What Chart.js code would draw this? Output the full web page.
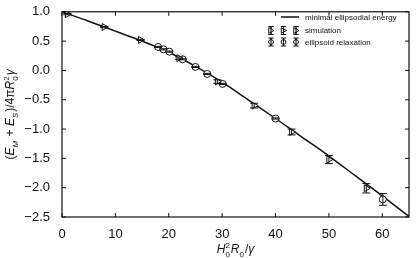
<!DOCTYPE html>
<html>
<head>
<meta charset="utf-8">
<script src="https://cdn.jsdelivr.net/npm/chart.js@4.4.0/dist/chart.umd.min.js"></script>
<style>
  html, body { margin: 0; padding: 0; background: #fff; }
  #wrap { width: 418px; height: 258px; }
</style>
</head>
<body>
<div id="wrap"><canvas id="energy-chart" width="418" height="258"></canvas></div>
<script>
// minimal ellipsoidal energy (theory curve)
const curveX = [0, 5, 10, 15, 20, 25, 30, 35, 40, 45, 50, 55, 60, 65];
const curveY = [1.0, 0.84, 0.67, 0.50, 0.31, 0.07, -0.20, -0.51, -0.82, -1.14, -1.46, -1.80, -2.14, -2.49];

// simulation points with error
const simX = [1, 7.9, 14.7, 21.9, 29.1, 36, 43, 50, 57];
const simY = [0.96, 0.74, 0.52, 0.21, -0.19, -0.60, -1.05, -1.52, -2.01];
const simErr = [0.01, 0.01, 0.01, 0.02, 0.03, 0.04, 0.05, 0.07, 0.08];

// ellipsoid relaxation points with error
const relX = [18, 19, 20.1, 22.6, 25, 27.2, 30.1, 40, 60.1];
const relY = [0.40, 0.36, 0.32, 0.19, 0.06, -0.06, -0.23, -0.82, -2.20];
const relErr = [0.01, 0.01, 0.01, 0.01, 0.01, 0.01, 0.01, 0.01, 0.10];

const xTicks = [0, 10, 20, 30, 40, 50, 60];
const yTicks = [-2.5, -2.0, -1.5, -1.0, -0.5, 0.0, 0.5, 1.0];
const seriesLabels = ['minimal ellipsodial energy', 'simulation', 'ellipsoid relaxation'];

const FONT = '"Liberation Sans", Arial, Helvetica, sans-serif';
const INK = '#111';

// axis titles as pieces: t = text, it = italic, sub / sup = scripts
const xTitle = [
  { t: 'H', it: true, sub: '0', sup: '2' },
  { t: 'R', it: true, sub: '0' },
  { t: '/' },
  { t: 'γ', it: true }
];
const yTitle = [
  { t: '(' },
  { t: 'E', it: true, sub: 'M', subIt: true },
  { t: ' + ' },
  { t: 'E', it: true, sub: 'S', subIt: true },
  { t: ')/4π' },
  { t: 'R', it: true, sub: '0', sup: '2' },
  { t: 'γ', it: true }
];

function pts(xs, ys) {
  return xs.map((x, i) => ({ x: x, y: ys[i] }));
}

function richText(ctx, segs, x, y, size, draw) {
  let cx = x;
  const small = Math.round(size * 0.7);
  segs.forEach(s => {
    ctx.font = (s.it ? 'italic ' : '') + size + 'px ' + FONT;
    if (draw) ctx.fillText(s.t, cx, y);
    cx += ctx.measureText(s.t).width;
    if (s.sub || s.sup) {
      let w = 0;
      ctx.font = (s.subIt ? 'italic ' : '') + small + 'px ' + FONT;
      if (s.sub) {
        if (draw) ctx.fillText(s.sub, cx, y + size * 0.3);
        w = Math.max(w, ctx.measureText(s.sub).width);
      }
      if (s.sup) {
        if (draw) ctx.fillText(s.sup, cx, y - size * 0.42);
        w = Math.max(w, ctx.measureText(s.sup).width);
      }
      cx += w + 1;
    }
  });
  return cx - x;
}

function drawCentered(ctx, segs, cx, cy, size) {
  const w = richText(ctx, segs, 0, 0, size, false);
  richText(ctx, segs, cx - w / 2, cy, size, true);
}

function drawMarker(ctx, style, x, y, r) {
  ctx.save();
  ctx.fillStyle = '#fff';
  ctx.strokeStyle = INK;
  ctx.lineWidth = 1;
  ctx.beginPath();
  if (style === 'triangle') {
    ctx.moveTo(x + r, y);
    ctx.lineTo(x - r * 0.75, y - r * 0.95);
    ctx.lineTo(x - r * 0.75, y + r * 0.95);
    ctx.closePath();
  } else {
    ctx.arc(x, y, r * 0.8, 0, Math.PI * 2);
  }
  ctx.fill();
  ctx.stroke();
  ctx.restore();
}

function errBar(ctx, x, y0, y1, cap) {
  ctx.beginPath();
  ctx.moveTo(x, y0); ctx.lineTo(x, y1);
  ctx.moveTo(x - cap, y0); ctx.lineTo(x + cap, y0);
  ctx.moveTo(x - cap, y1); ctx.lineTo(x + cap, y1);
  ctx.stroke();
}

// frame, inward ticks, error bars, legend and axis titles
const decorations = {
  id: 'decorations',
  afterDatasetsDraw(chart) {
    const ctx = chart.ctx;
    const a = chart.chartArea;
    const xs = chart.scales.x, ys = chart.scales.y;
    ctx.save();
    ctx.strokeStyle = INK;
    ctx.lineWidth = 1;

    // error bars
    chart.data.datasets.forEach((ds, di) => {
      if (!ds.errors) return;
      const meta = chart.getDatasetMeta(di);
      meta.data.forEach((el, i) => {
        const v = ds.data[i].y, e = ds.errors[i];
        errBar(ctx, el.x, ys.getPixelForValue(v + e), ys.getPixelForValue(v - e), 4);
      });
    });

    // frame
    ctx.lineWidth = 1.2;
    ctx.strokeRect(a.left, a.top, a.right - a.left, a.bottom - a.top);

    // inward ticks on all four sides
    ctx.lineWidth = 1;
    ctx.beginPath();
    xs.ticks.forEach(t => {
      const px = xs.getPixelForValue(t.value);
      ctx.moveTo(px, a.bottom); ctx.lineTo(px, a.bottom - 4);
      ctx.moveTo(px, a.top); ctx.lineTo(px, a.top + 4);
    });
    ys.ticks.forEach(t => {
      const py = ys.getPixelForValue(t.value);
      ctx.moveTo(a.left, py); ctx.lineTo(a.left + 4, py);
      ctx.moveTo(a.right, py); ctx.lineTo(a.right - 4, py);
    });
    ctx.stroke();

    // legend
    ctx.fillStyle = INK;
    ctx.font = '8px ' + FONT;
    ctx.textAlign = 'left';
    ctx.textBaseline = 'middle';
    const lx = 305;
    ctx.lineWidth = 1.5;
    ctx.beginPath();
    ctx.moveTo(281, 17); ctx.lineTo(299, 17);
    ctx.stroke();
    ctx.fillText(seriesLabels[0], lx, 17.5);
    ctx.lineWidth = 1;
    [[seriesLabels[1], 'triangle', 30.5], [seriesLabels[2], 'circle', 42]].forEach(row => {
      [271, 283.5, 296].forEach(mx => {
        errBar(ctx, mx, row[2] - 4, row[2] + 4, 2.7);
        drawMarker(ctx, row[1], mx, row[2], 3);
        ctx.beginPath();
        ctx.moveTo(mx, row[2] - 4); ctx.lineTo(mx, row[2] + 4);
        ctx.stroke();
      });
      ctx.fillText(row[0], lx, row[2] + 0.5);
    });

    // axis titles
    ctx.textBaseline = 'alphabetic';
    drawCentered(ctx, xTitle, (a.left + a.right) / 2, 253, 12);
    ctx.translate(14, (a.top + a.bottom) / 2);
    ctx.rotate(-Math.PI / 2);
    drawCentered(ctx, yTitle, 0, 0, 12);
    ctx.restore();
  }
};

const chart = new Chart(document.getElementById('energy-chart'), {
  type: 'scatter',
  data: {
    datasets: [
      {
        label: seriesLabels[1],
        data: pts(simX, simY),
        errors: simErr,
        pointStyle: 'triangle',
        rotation: 90,
        pointRadius: 4,
        pointBackgroundColor: '#fff',
        pointBorderColor: INK,
        pointBorderWidth: 1,
        order: 0
      },
      {
        label: seriesLabels[2],
        data: pts(relX, relY),
        errors: relErr,
        pointStyle: 'circle',
        pointRadius: 3.5,
        pointBackgroundColor: '#fff',
        pointBorderColor: INK,
        pointBorderWidth: 1,
        order: 1
      },
      {
        label: seriesLabels[0],
        data: pts(curveX, curveY),
        showLine: true,
        borderColor: INK,
        borderWidth: 1.5,
        pointRadius: 0,
        cubicInterpolationMode: 'monotone',
        order: 2
      }
    ]
  },
  options: {
    responsive: false,
    animation: false,
    devicePixelRatio: 1,
    layout: { padding: { top: 7, right: 9, left: 0, bottom: 0 } },
    plugins: { legend: { display: false }, tooltip: { enabled: false } },
    scales: {
      x: {
        type: 'linear',
        min: 0,
        max: 65,
        afterBuildTicks: s => { s.ticks = xTicks.map(v => ({ value: v })); },
        afterFit: s => { s.height = 41; },
        grid: { display: false },
        border: { display: false },
        ticks: { color: INK, font: { family: FONT, size: 13 }, padding: 2, maxRotation: 0,
                 callback: v => String(v) }
      },
      y: {
        type: 'linear',
        min: -2.5,
        max: 1.0,
        afterBuildTicks: s => { s.ticks = yTicks.map(v => ({ value: v })); },
        afterFit: s => { s.width = 62; },
        grid: { display: false },
        border: { display: false },
        ticks: { color: INK, font: { family: FONT, size: 13 }, padding: 4,
                 callback: v => Number(v).toFixed(1).replace('-', '\u2212') }
      }
    }
  },
  plugins: [decorations]
});
</script>
</body>
</html>
